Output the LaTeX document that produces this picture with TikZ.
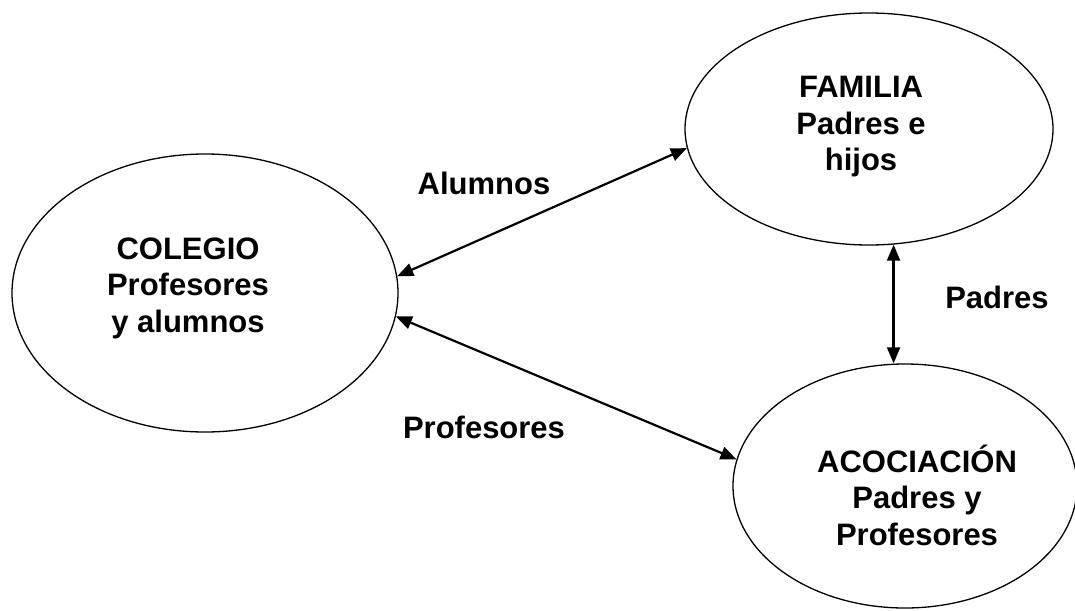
\documentclass[tikz,border=0pt]{standalone}
\usepackage{fontspec}
\setmainfont{Liberation Sans}
\usetikzlibrary{shapes.geometric}
\usetikzlibrary{arrows.meta}

\begin{document}
\begin{tikzpicture}[line cap=round,line join=round,>={Triangle[length=16pt,width=13pt]},x=1pt,y=-1pt,
  zone/.style={ellipse, draw, line width=1.3pt, inner sep=0pt},
  lbl/.style={font=\bfseries\fontsize{31}{36.5}\selectfont, align=center},
  link/.style={<->, line width=2.2pt}]
  \useasboundingbox (0,0) rectangle (1075,610);
  \clip (0,0) rectangle (1075,610);

  \node[zone, minimum width=386pt, minimum height=278pt] (colegio) at (205,293) {};
  \node[zone, minimum width=368pt, minimum height=232pt] (familia) at (869,129) {};
  \node[zone, minimum width=344pt, minimum height=244pt] (acoc) at (905,486) {};

  \node[lbl] (tcolegio) at (188,288) {COLEGIO\\Profesores\\y alumnos};
  \node[lbl] (tfamilia) at (861,127) {FAMILIA\\Padres e\\hijos};
  \node[lbl] (tacoc) at (917,495) {ACOCIACIÓN\\Padres y\\Profesores};

  \draw[link] (colegio.5) -- (familia.186);
  \draw[link] (colegio.-7) -- (acoc.171);
  \draw[link] (familia.282) -- (familia.282 |- acoc.north);

  \node[lbl] (alumnos) at (484,183) {Alumnos};
  \node[lbl] (profesores) at (484,427) {Profesores};
  \node[lbl] (padres) at (997,297) {Padres};
\end{tikzpicture}
\end{document}
